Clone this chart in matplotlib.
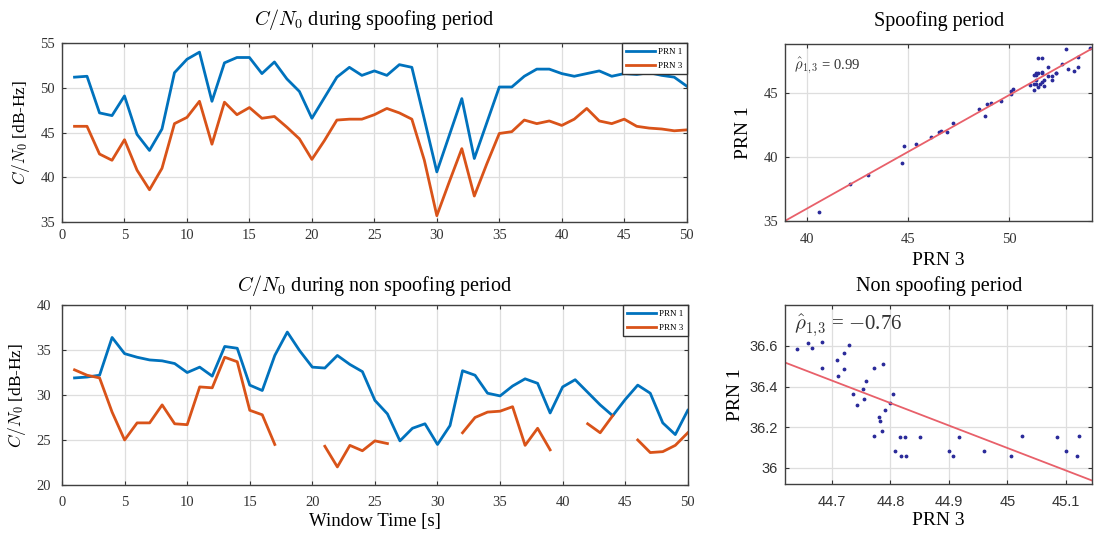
import numpy as np
import matplotlib
matplotlib.use("Agg")
import matplotlib.pyplot as plt

plt.rcParams["font.family"] = ["Liberation Serif", "DejaVu Serif"]
plt.rcParams["mathtext.fontset"] = "cm"

# window time [s]
t = np.arange(1, 51)

# C/N0 during spoofing period
spoof_prn1 = [51.2, 51.3, 47.2, 46.9, 49.1, 44.8, 43.0, 45.4, 51.7, 53.2,
              54.0, 48.5, 52.8, 53.4, 53.4, 51.6, 52.9, 51.0, 49.6, 46.6,
              48.9, 51.2, 52.3, 51.4, 51.9, 51.4, 52.6, 52.3, 46.5, 40.6,
              44.7, 48.8, 42.1, 46.1, 50.1, 50.1, 51.3, 52.1, 52.1, 51.6,
              51.3, 51.6, 51.9, 51.3, 51.6, 51.5, 51.7, 51.4, 51.2, 50.2]
spoof_prn3 = [45.7, 45.7, 42.6, 41.9, 44.2, 40.8, 38.6, 41.0, 46.0, 46.7,
              48.5, 43.7, 48.4, 47.0, 47.8, 46.6, 46.8, 45.6, 44.3, 42.0,
              44.1, 46.4, 46.5, 46.5, 47.0, 47.7, 47.2, 46.5, 41.9, 35.7,
              39.5, 43.2, 37.9, 41.5, 44.9, 45.1, 46.4, 46.0, 46.3, 45.8,
              46.5, 47.7, 46.3, 46.0, 46.5, 45.7, 45.5, 45.4, 45.2, 45.3]

# C/N0 during non spoofing period (nan = no estimate)
nan = np.nan
nonspoof_prn1 = [31.9, 32.0, 32.2, 36.4, 34.6, 34.2, 33.9, 33.8, 33.5, 32.5,
                 33.1, 32.1, 35.4, 35.2, 31.1, 30.5, 34.4, 37.0, 34.9, 33.1,
                 33.0, 34.4, 33.4, 32.6, 29.4, 27.9, 24.9, 26.3, 26.8, 24.5,
                 26.6, 32.7, 32.2, 30.2, 29.9, 31.0, 31.8, 31.3, 28.0, 30.9,
                 31.7, 30.3, 28.9, 27.7, 29.5, 31.1, 30.2, 26.9, 25.6, 28.3]
nonspoof_prn3 = [32.8, 32.2, 31.9, 28.1, 25.0, 26.9, 26.9, 28.9, 26.8, 26.7,
                 30.9, 30.8, 34.2, 33.7, 28.3, 27.8, 24.5, nan, nan, nan,
                 24.3, 22.0, 24.4, 23.8, 24.9, 24.6, nan, nan, nan, nan,
                 nan, 25.8, 27.5, 28.1, 28.2, 28.7, 24.4, 26.3, 23.9, nan,
                 nan, 26.8, 25.8, 27.7, nan, 25.0, 23.6, 23.7, 24.4, 25.8]

# scatter samples, non spoofing period
ns_x = [44.640, 44.660, 44.666, 44.683, 44.683, 44.709, 44.711, 44.720, 44.720,
        44.730, 44.737, 44.743, 44.753, 44.755, 44.758, 44.772, 44.772, 44.785,
        44.787, 44.791, 44.799, 44.804, 44.781, 44.783, 44.808, 44.816, 44.819,
        44.827, 44.825, 44.850, 44.901, 44.907, 44.918, 44.960, 45.006, 45.025,
        45.084, 45.100, 45.119, 45.123]
ns_y = [36.585, 36.613, 36.588, 36.617, 36.489, 36.530, 36.451, 36.564, 36.486,
        36.605, 36.361, 36.311, 36.389, 36.340, 36.426, 36.157, 36.489, 36.182,
        36.509, 36.282, 36.318, 36.361, 36.248, 36.232, 36.083, 36.152, 36.058,
        36.058, 36.152, 36.152, 36.083, 36.058, 36.152, 36.083, 36.058, 36.157,
        36.152, 36.083, 36.058, 36.157]

BLUE = "#0072BD"
RED = "#D95319"
DOT = "#2b2b9a"
FIT = "#e8606a"
GRID = "#dedede"
SPINE = "#404040"

fig = plt.figure(figsize=(10.94, 5.4), dpi=100)


def style(ax, pad=5):
    ax.grid(True, color=GRID, linewidth=0.9)
    ax.set_axisbelow(True)
    for s in ax.spines.values():
        s.set_color(SPINE)
        s.set_linewidth(1.0)
    ax.tick_params(direction="in", length=3, labelsize=10.5, colors="#333333",
                   top=True, right=True, pad=pad)


def legend(ax):
    ax.legend(loc="upper right", fontsize=6.5, frameon=True, fancybox=False,
              edgecolor="#333333", framealpha=1, borderaxespad=0.0,
              handlelength=3.2, borderpad=0.5, labelspacing=0.6,
              handletextpad=0.3)


# time series
ax1 = fig.add_axes([0.0567, 0.589, 0.571, 0.331])
ax1.plot(t, spoof_prn1, color=BLUE, lw=2, label="PRN 1")
ax1.plot(t, spoof_prn3, color=RED, lw=2, label="PRN 3")
ax1.set_xlim(0, 50)
ax1.set_ylim(35, 55)
ax1.set_xticks(range(0, 51, 5))
ax1.set_yticks(range(35, 56, 5))
ax1.set_title(r"$C/N_0$ during spoofing period", fontsize=14.5, pad=13)
ax1.set_ylabel(r"$C/N_0$ [dB-Hz]", fontsize=12.5, labelpad=6)
style(ax1)
legend(ax1)

ax2 = fig.add_axes([0.0567, 0.102, 0.572, 0.333])
ax2.plot(t, nonspoof_prn1, color=BLUE, lw=2, label="PRN 1")
ax2.plot(t, nonspoof_prn3, color=RED, lw=2, label="PRN 3")
ax2.set_xlim(0, 50)
ax2.set_ylim(20, 40)
ax2.set_xticks(range(0, 51, 5))
ax2.set_yticks(range(20, 41, 5))
ax2.set_title(r"$C/N_0$ during non spoofing period", fontsize=14.5, pad=10)
ax2.set_ylabel(r"$C/N_0$ [dB-Hz]", fontsize=12.5, labelpad=6)
ax2.set_xlabel("Window Time [s]", fontsize=13.5, labelpad=3)
style(ax2, pad=8)
legend(ax2)

# scatter, spoofing period
ax3 = fig.add_axes([0.7175, 0.591, 0.281, 0.328])
sx = np.array(spoof_prn1)
sy = np.array(spoof_prn3)
ax3.plot(sx, sy, ".", color=DOT, ms=3.5)
k = np.polyfit(sx, sy, 1)
xx = np.array([38.9, 54.1])
ax3.plot(xx, np.polyval(k, xx), color=FIT, lw=1.3)
ax3.set_xlim(38.9, 54.1)
ax3.set_ylim(35, 48.8)
ax3.set_xticks([40, 45, 50])
ax3.set_yticks([35, 40, 45])
ax3.set_title("Spoofing period", fontsize=14.5, pad=13)
ax3.set_xlabel("PRN 3", fontsize=14, labelpad=4)
ax3.set_ylabel("PRN 1", fontsize=14, labelpad=8)
style(ax3, pad=9)
ax3.tick_params(axis="y", pad=5)
ax3.text(0.03, 0.93, r"$\hat{\rho}_{1,3}$ = 0.99", transform=ax3.transAxes,
         fontsize=10.5, va="top", ha="left", color="#333333")

# scatter, non spoofing period
ax4 = fig.add_axes([0.7175, 0.1037, 0.281, 0.331])
nx = np.array(ns_x)
ny = np.array(ns_y)
ax4.plot(nx, ny, ".", color=DOT, ms=3.5)
k2 = np.polyfit(nx, ny, 1)
xx2 = np.array([44.62, 45.145])
ax4.plot(xx2, np.polyval(k2, xx2), color=FIT, lw=1.3)
ax4.set_xlim(44.62, 45.145)
ax4.set_ylim(35.92, 36.80)
ax4.set_xticks([44.7, 44.8, 44.9, 45.0, 45.1])
ax4.set_xticklabels(["44.7", "44.8", "44.9", "45", "45.1"])
ax4.set_yticks([36.0, 36.2, 36.4, 36.6])
ax4.set_yticklabels(["36", "36.2", "36.4", "36.6"])
ax4.set_title("Non spoofing period", fontsize=14.5, pad=10)
ax4.set_xlabel("PRN 3", fontsize=14, labelpad=2)
ax4.set_ylabel("PRN 1", fontsize=14, labelpad=4)
style(ax4, pad=8)
ax4.tick_params(axis="y", pad=5)
for lab in ax4.get_xticklabels() + ax4.get_yticklabels():
    lab.set_family(["Liberation Sans", "DejaVu Sans"])
ax4.text(0.03, 0.96, r"$\hat{\rho}_{1,\!3}$ = $-$0.76", transform=ax4.transAxes,
         fontsize=15, va="top", ha="left", color="#333333")

fig.savefig("out.png", dpi=100)
